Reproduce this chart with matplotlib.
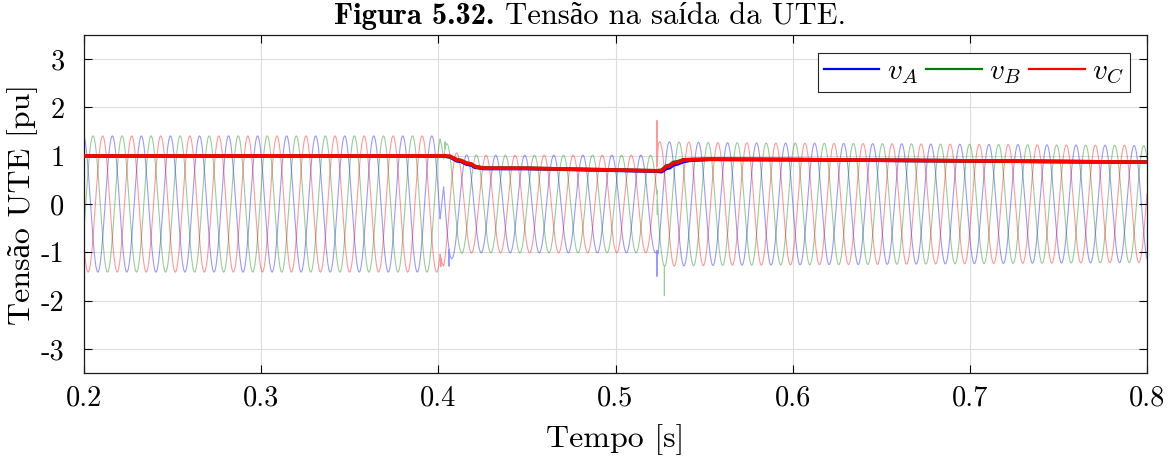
import numpy as np
import matplotlib
matplotlib.use("Agg")
import matplotlib.pyplot as plt
from matplotlib.ticker import FixedLocator, FixedFormatter

plt.rcParams['font.family'] = ['cmr10', 'Liberation Serif']
plt.rcParams['mathtext.fontset'] = 'cm'
plt.rcParams['axes.formatter.use_mathtext'] = True
plt.rcParams['axes.unicode_minus'] = False

# ---- signal description -------------------------------------------------
freq_hz = 61.0              # observed waveform frequency
t_peak_a = 0.2160           # a positive peak of phase A before the fault

# peak amplitude envelope of the instantaneous voltages [pu]
env_t   = [0.200, 0.4010, 0.4040, 0.4080, 0.4120, 0.4233, 0.5234, 0.5240, 0.560, 0.650, 0.800]
env_amp = [1.41,  1.41,   1.29,   1.12,   1.02,   1.01,   1.01,   1.29,   1.27,  1.25,  1.21]

# phase shift of the waveforms [cycles]
shift_t   = [0.200, 0.4010, 0.4030, 0.5234, 0.5244, 0.800]
shift_cyc = [0.00,  0.00,   0.20,   0.20,   0.18,   0.18]

# switching transients: (phase index, time [s], value [pu])
spikes = [
    (0, 0.4060, -1.29),
    (2, 0.4014, -1.30),
    (1, 0.4038, 1.29),
    (2, 0.5234, 1.73),
    (0, 0.5234, -1.50),
    (1, 0.5234, 0.29),
    (1, 0.5236, -0.22),
    (1, 0.5276, -1.90),
]

# RMS-type magnitude traces [pu]
rms_t = [0.200, 0.4040, 0.4066, 0.4104, 0.4130, 0.4160, 0.4185, 0.4207, 0.4230, 0.4254,
         0.450, 0.5232, 0.5260, 0.5288, 0.5305, 0.5326, 0.5350, 0.5383, 0.5420, 0.5533,
         0.600, 0.700, 0.800]
rms_a = [0.990, 0.990, 0.975, 0.895, 0.880, 0.825, 0.810, 0.760, 0.750, 0.735,
         0.735, 0.680, 0.670, 0.740, 0.750, 0.810, 0.830, 0.880, 0.905, 0.925,
         0.918, 0.893, 0.866]
rms_b = [0.990, 0.990, 0.980, 0.920, 0.895, 0.850, 0.825, 0.780, 0.755, 0.745,
         0.740, 0.688, 0.700, 0.790, 0.800, 0.860, 0.875, 0.915, 0.920, 0.928,
         0.920, 0.894, 0.866]
rms_c = [0.995, 0.995, 0.990, 0.910, 0.900, 0.840, 0.830, 0.776, 0.765, 0.742,
         0.740, 0.687, 0.690, 0.776, 0.785, 0.845, 0.860, 0.913, 0.918, 0.928,
         0.920, 0.894, 0.866]

labels = [r'$v_A$', r'$v_B$', r'$v_C$']
colors = ['#0000ff', '#008000', '#ff0000']

x_ticks = [0.2, 0.3, 0.4, 0.5, 0.6, 0.7, 0.8]
x_tick_labels = ['0.2', '0.3', '0.4', '0.5', '0.6', '0.7', '0.8']
y_ticks = [-3, -2, -1, 0, 1, 2, 3]
y_tick_labels = ['-3', '-2', '-1', '0', '1', '2', '3']

# ---- build the waveforms ---------------------------------------------------
t = np.arange(0.2, 0.8 + 1e-6, 2e-5)
amp = np.interp(t, env_t, env_amp)
shift = np.interp(t, shift_t, shift_cyc)
theta = 2 * np.pi * (freq_hz * (t - t_peak_a) - shift)
waves = [amp * np.cos(theta - k * 2 * np.pi / 3) for k in range(3)]
for k, ts, val in spikes:
    i = int(np.argmin(np.abs(t - ts)))
    waves[k][i] = val

# ---- figure ------------------------------------------------------------------
fig = plt.figure(figsize=(11.75, 4.57), dpi=100)
ax = fig.add_axes([84 / 1175, 1 - 373 / 457, 1063 / 1175, 338 / 457])

for k in range(3):
    ax.plot(t, waves[k], color=colors[k], lw=0.8, alpha=0.4, zorder=2)

handles = []
for k, r in enumerate([rms_a, rms_b, rms_c]):
    ax.plot(rms_t, r, color=colors[k], lw=2.6, zorder=3 + k, solid_joinstyle='round')
    h, = ax.plot([], [], color=colors[k], lw=1.6, label=labels[k])
    handles.append(h)

ax.set_xlim(0.2, 0.8)
ax.set_ylim(-3.5, 3.5)
ax.xaxis.set_major_locator(FixedLocator(x_ticks))
ax.xaxis.set_major_formatter(FixedFormatter(x_tick_labels))
ax.yaxis.set_major_locator(FixedLocator(y_ticks))
ax.yaxis.set_major_formatter(FixedFormatter(y_tick_labels))
ax.tick_params(direction='in', top=True, right=True, length=6, width=0.8,
               labelsize=20.5, pad=9)
ax.tick_params(axis='y', pad=14)
ax.grid(True, color='#dcdcdc', lw=0.8, zorder=0)
for s in ax.spines.values():
    s.set_linewidth(0.9)
    s.set_color('#1a1a1a')

ax.set_xlabel('Tempo [s]', fontsize=23, labelpad=9)
ax.set_ylabel('Tensão UTE [pu]', fontsize=23, labelpad=2)

leg = ax.legend(handles=handles, loc='upper right', ncol=3, fontsize=21,
                frameon=True, fancybox=False, framealpha=1, edgecolor='#262626',
                handlelength=1.9, handletextpad=0.25, columnspacing=0.3,
                borderpad=0.2, borderaxespad=0.6)
leg.get_frame().set_linewidth(0.8)

# two-part caption above the axes
fig.canvas.draw()
renderer = fig.canvas.get_renderer()
bold_txt = fig.text(0, 0, 'Figura 5.32.', family=['cmb10', 'Liberation Serif'],
                    fontsize=22, va='baseline')
reg_txt = fig.text(0, 0, ' Tensão na saída da UTE.', fontsize=22, va='baseline')
wb = bold_txt.get_window_extent(renderer).width
wr = reg_txt.get_window_extent(renderer).width
x0 = (590 - (wb + wr) / 2) / 1175
yb = 1 - 24 / 457
bold_txt.set_position((x0, yb))
reg_txt.set_position((x0 + wb / 1175, yb))

fig.savefig('out.png', dpi=100)
